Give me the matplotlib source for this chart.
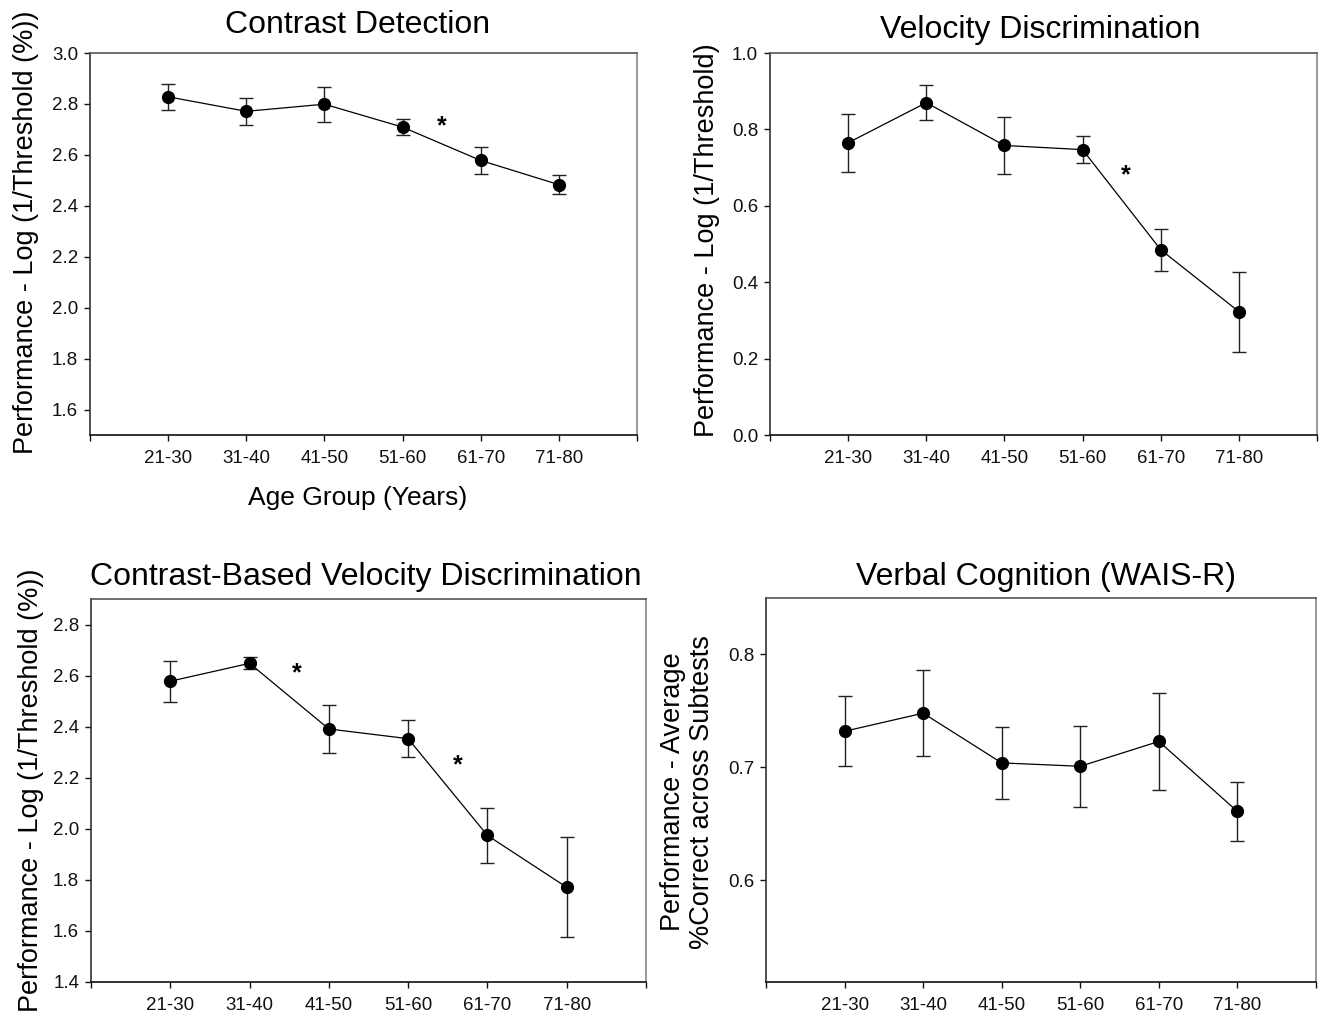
import matplotlib.pyplot as plt
import numpy as np

plt.rcParams['font.family'] = ['Liberation Sans', 'DejaVu Sans']

# age groups (x positions 1..6, axis runs 0..7)
ages = ['21-30', '31-40', '41-50', '51-60', '61-70', '71-80']

# Contrast Detection
cd_mean = [2.828, 2.771, 2.799, 2.709, 2.578, 2.483]
cd_err = [0.050, 0.054, 0.069, 0.031, 0.053, 0.037]

# Velocity Discrimination
vd_mean = [0.765, 0.870, 0.758, 0.747, 0.485, 0.323]
vd_err = [0.076, 0.046, 0.075, 0.035, 0.055, 0.105]

# Contrast-Based Velocity Discrimination
cbv_mean = [2.578, 2.648, 2.391, 2.353, 1.974, 1.771]
cbv_err = [0.081, 0.024, 0.094, 0.073, 0.109, 0.196]

# Verbal Cognition (WAIS-R)
wais_mean = [0.732, 0.748, 0.704, 0.701, 0.723, 0.661]
wais_err = [0.031, 0.038, 0.032, 0.036, 0.043, 0.026]

W, H = 1319, 1016
fig = plt.figure(figsize=(W / 100, H / 100), dpi=100)


def rect(l, t, r, b):
    return [l / W, 1 - b / H, (r - l) / W, (b - t) / H]


def panel(box, mean, err, ylim, yticks, fmt, ylabel, lab_xy, title, title_xy, stars):
    ax = fig.add_axes(rect(*box))
    x = np.arange(1, len(mean) + 1)
    ax.errorbar(x, mean, yerr=err, fmt='-o', color='black', ms=8.5, lw=0.9,
                ecolor='#222222', elinewidth=1.0, capsize=5, capthick=1.0)
    ax.set_xlim(0, 7)
    ax.set_ylim(*ylim)
    ax.set_xticks(range(0, 8))
    ax.set_xticklabels([''] + ages + [''])
    ax.set_yticks(yticks)
    ax.set_yticklabels([fmt % v for v in yticks])
    ax.tick_params(axis='x', direction='out', length=4.5, width=1, pad=6,
                   labelsize=13.5, colors='#111111')
    ax.tick_params(axis='y', direction='out', length=4.5, width=1, pad=4,
                   labelsize=13.5, colors='#111111')
    for s, c in [('left', '#333333'), ('bottom', '#111111'),
                 ('top', '#555555'), ('right', '#888888')]:
        ax.spines[s].set_color(c)
        ax.spines[s].set_linewidth(1.2)
    ax.set_ylabel(ylabel, fontsize=19.5, va='center', ha='center',
                  linespacing=1.15)
    ax.yaxis.set_label_coords(*lab_xy)
    fig.text(title_xy[0] / W, 1 - title_xy[1] / H, title, fontsize=23,
             ha='center', va='baseline')
    for sx, sy in stars:
        ax.annotate('*', xy=(sx, sy), xytext=(0, -10), textcoords='offset points',
                    ha='center', va='baseline', fontsize=18, fontweight='bold')
    return ax


panel((90, 53, 637, 435), cd_mean, cd_err, (1.5, 3.0), np.arange(1.6, 3.01, 0.2),
      '%.1f', 'Performance - Log (1/Threshold (%))', (-0.117, 0.531),
      'Contrast Detection', (358, 33), [(4.5, 2.74)])

panel((770, 53, 1317, 435), vd_mean, vd_err, (0.0, 1.0), np.arange(0.0, 1.01, 0.2),
      '%.1f', 'Performance - Log (1/Threshold)', (-0.115, 0.510),
      'Velocity Discrimination', (1040, 38), [(4.55, 0.697)])

panel((91, 599, 646, 982), cbv_mean, cbv_err, (1.4, 2.9), np.arange(1.4, 2.81, 0.2),
      '%.1f', 'Performance - Log (1/Threshold (%))', (-0.108, 0.501),
      'Contrast-Based Velocity Discrimination', (366, 585),
      [(2.6, 2.634), (4.62, 2.275)])

panel((766, 598, 1316, 982), wais_mean, wais_err, (0.51, 0.85), [0.6, 0.7, 0.8],
      '%.1f', 'Performance - Average\n%Correct across Subtests', (-0.142, 0.495),
      'Verbal Cognition (WAIS-R)', (1046, 585), [])

fig.text(358 / W, 1 - 505 / H, 'Age Group (Years)', fontsize=19,
         ha='center', va='baseline')

fig.savefig('out.png', dpi=100)
